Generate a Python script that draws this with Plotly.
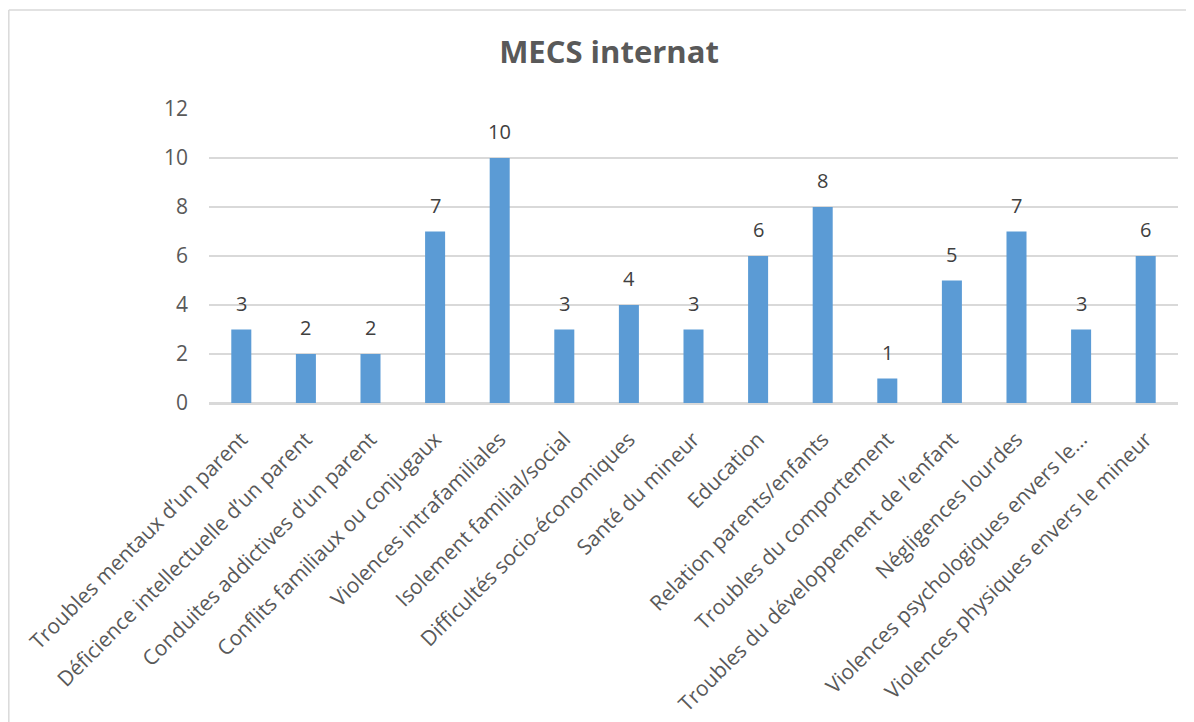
import plotly.graph_objects as go

categories = [
    "Troubles mentaux d’un parent",
    "Déficience intellectuelle d’un parent",
    "Conduites addictives d’un parent",
    "Conflits familiaux ou conjugaux",
    "Violences intrafamiliales",
    "Isolement familial/social",
    "Difficultés socio-économiques",
    "Santé du mineur",
    "Education",
    "Relation parents/enfants",
    "Troubles du comportement",
    "Troubles du développement de l’enfant",
    "Négligences lourdes",
    "Violences psychologiques envers le...",
    "Violences physiques envers le mineur",
]
values = [3, 2, 2, 7, 10, 3, 4, 3, 6, 8, 1, 5, 7, 3, 6]
y_ticks = [0, 2, 4, 6, 8, 10, 12]

# page has an 8px body margin; figure sized to fit the window
W, H = 1186, 714
ml, mr, mt, mb = 201, 15.7, 101, 319.3
pw, ph = W - ml - mr, H - mt - mb

fig = go.Figure(go.Bar(
    x=categories, y=values,
    marker=dict(color="#5B9BD5", line=dict(width=0)),
    hoverinfo="x+y",
))

for c, v in zip(categories, values):
    fig.add_annotation(x=c, y=v, text=str(v), showarrow=False,
                       xanchor="center", yanchor="bottom", yshift=11,
                       font=dict(family="Open Sans", size=20, color="#404040"))

fig.update_layout(
    width=W, height=H,
    margin=dict(l=ml, r=mr, t=mt, b=mb, autoexpand=False),
    paper_bgcolor="white", plot_bgcolor="white",
    bargap=0.69,
    showlegend=False,
    font=dict(family="Open Sans", color="#595959"),
    title=dict(text="<b>MECS internat</b>", x=601 / W, xanchor="center",
               y=1 - 43.7 / H, yanchor="middle",
               font=dict(family="Open Sans", size=31, color="#595959")),
    xaxis=dict(tickangle=-45, tickfont=dict(size=21, color="#595959"),
               showgrid=False, showline=True, linecolor="#d9d9d9", linewidth=1.5,
               ticks="", ticklen=0, ticklabelstandoff=14),
    yaxis=dict(range=[0, 12], tickvals=y_ticks, tickfont=dict(size=21, color="#595959"),
               showgrid=True, gridcolor="#d9d9d9", gridwidth=1.5,
               zeroline=True, zerolinecolor="#d9d9d9", zerolinewidth=1.5, showline=False,
               ticks="", ticklabelstandoff=20),
)

# chart-area border (top & left edges visible)
x0 = (0.75 - ml) / pw
ytop = (H - mb - 2) / ph
fig.add_shape(type="line", xref="paper", yref="paper", x0=x0, x1=(W + 10 - ml) / pw,
              y0=ytop, y1=ytop, line=dict(color="#d9d9d9", width=1.5))
fig.add_shape(type="line", xref="paper", yref="paper", x0=x0, x1=x0,
              y0=ytop, y1=(H - mb - H - 10) / ph, line=dict(color="#d9d9d9", width=1.5))

fig.write_html("out.html")
